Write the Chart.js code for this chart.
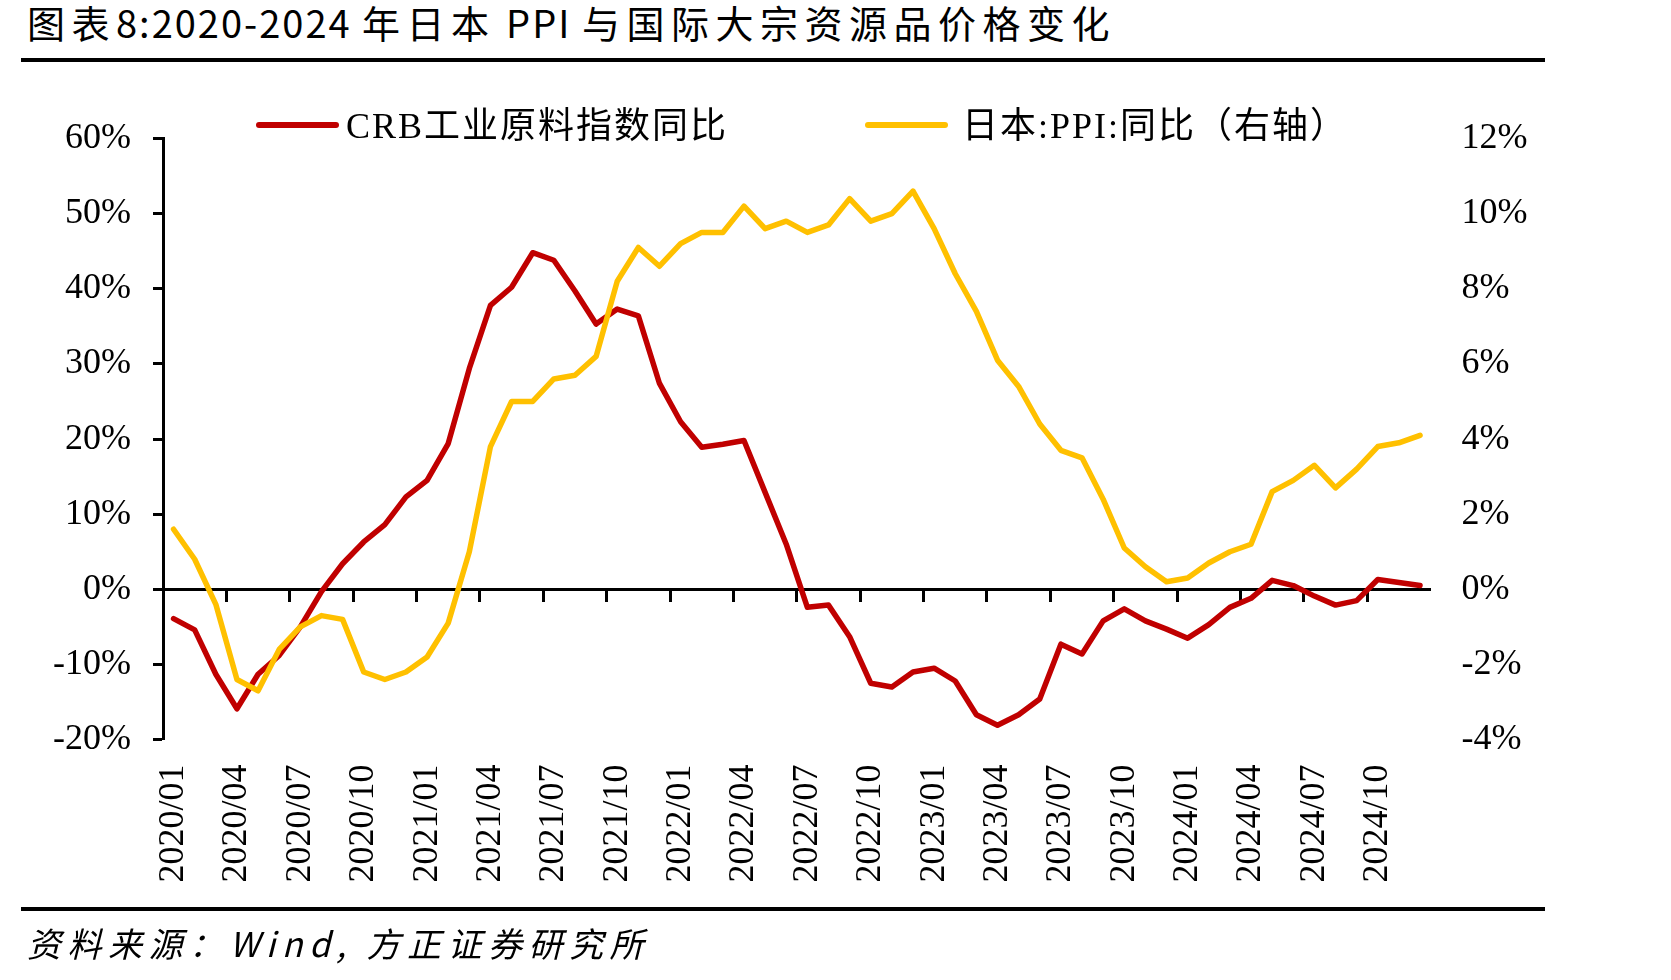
<!DOCTYPE html>
<html lang="zh-CN">

<head>
    <meta charset="UTF-8">
    <title>图表8</title>
    <script src="https://cdn.jsdelivr.net/npm/chart.js@4.4.1/dist/chart.umd.min.js"></script>
    <style>
        body { margin: 0; background: #fff; overflow: hidden; }
        #page { position: relative; width: 1671px; height: 980px; }
        #myChart { position: absolute; left: 0; top: 0; }
        .rule { position: absolute; left: 21px; width: 1524px; height: 4px; background: #000; }
        #title {
            position: absolute; left: 27px; top: 0px; white-space: nowrap;
            font: 38px "Noto Sans CJK SC"; line-height: 44px; letter-spacing: 6.5px; color: #000;
        }
        #title .lat { letter-spacing: 2px; }
        #source {
            position: absolute; left: 27px; top: 921px; white-space: nowrap;
            font: italic 34px "Noto Sans CJK SC"; line-height: 44px; letter-spacing: 6.5px; color: #000;
        }
        .legend-item { position: absolute; top: 104px; height: 42px; white-space: nowrap; }
        .legend-item .swatch {
            position: absolute; left: 0; top: 18px; width: 83px; height: 6px; border-radius: 3px;
        }
        .legend-item .text {
            position: absolute; top: -8px; line-height: 42px;
            font: 36px "Liberation Serif", "Noto Sans CJK SC", serif; letter-spacing: 2px; color: #000;
        }
    </style>
</head>

<body>
    <div id="page">
        <div id="title">图表<span class="lat">8:2020-2024 </span>年日本<span class="lat"> PPI </span>与国际大宗资源品价格变化</div>
        <div class="rule" style="top: 58px"></div>
        <canvas id="myChart" width="1671" height="980"></canvas>
        <div id="legend"></div>
        <div class="rule" style="top: 907px"></div>
        <div id="source">资料来源：Wind, 方正证券研究所</div>
    </div>

    <script>
        // monthly, 2020/01 - 2024/12
        var months = [
            '2020/01', '2020/02', '2020/03', '2020/04', '2020/05', '2020/06', '2020/07', '2020/08', '2020/09', '2020/10', '2020/11', '2020/12',
            '2021/01', '2021/02', '2021/03', '2021/04', '2021/05', '2021/06', '2021/07', '2021/08', '2021/09', '2021/10', '2021/11', '2021/12',
            '2022/01', '2022/02', '2022/03', '2022/04', '2022/05', '2022/06', '2022/07', '2022/08', '2022/09', '2022/10', '2022/11', '2022/12',
            '2023/01', '2023/02', '2023/03', '2023/04', '2023/05', '2023/06', '2023/07', '2023/08', '2023/09', '2023/10', '2023/11', '2023/12',
            '2024/01', '2024/02', '2024/03', '2024/04', '2024/05', '2024/06', '2024/07', '2024/08', '2024/09', '2024/10', '2024/11', '2024/12'
        ];

        // CRB工业原料指数同比 (%), left axis
        var crbYoy = [
            -3.9, -5.4, -11.3, -15.9, -11.3, -8.8, -5.0, -0.3, 3.4, 6.3, 8.6, 12.3,
            14.5, 19.4, 29.4, 37.8, 40.2, 44.8, 43.8, 39.7, 35.3, 37.3, 36.4, 27.4,
            22.3, 18.9, 19.3, 19.8, 12.9, 6.0, -2.4, -2.1, -6.3, -12.5, -13.0, -11.0,
            -10.5, -12.2, -16.7, -18.1, -16.7, -14.6, -7.3, -8.6, -4.2, -2.6, -4.2, -5.3,
            -6.5, -4.7, -2.4, -1.2, 1.2, 0.5, -0.9, -2.1, -1.5, 1.3, 0.9, 0.5
        ];

        // 日本:PPI:同比 (%), right axis
        var japanPpi = [
            1.6, 0.8, -0.4, -2.4, -2.7, -1.6, -1.0, -0.7, -0.8, -2.2, -2.4, -2.2,
            -1.8, -0.9, 1.0, 3.8, 5.0, 5.0, 5.6, 5.7, 6.2, 8.2, 9.1, 8.6,
            9.2, 9.5, 9.5, 10.2, 9.6, 9.8, 9.5, 9.7, 10.4, 9.8, 10.0, 10.6,
            9.6, 8.4, 7.4, 6.1, 5.4, 4.4, 3.7, 3.5, 2.4, 1.1, 0.6, 0.2,
            0.3, 0.7, 1.0, 1.2, 2.6, 2.9, 3.3, 2.7, 3.2, 3.8, 3.9, 4.1
        ];

        var leftTicks = { min: -20, max: 60, step: 10 };
        var rightTicks = { min: -4, max: 12, step: 2 };

        var RED = '#C00000';
        var YELLOW = '#FFC000';
        var BLACK = '#000000';

        Chart.defaults.font.family = '"Liberation Serif", "Noto Sans CJK SC", serif';
        Chart.defaults.font.size = 36;
        Chart.defaults.color = BLACK;

        var pct = function (v) { return v + '%'; };

        var config = {
            type: 'line',
            data: {
                labels: months,
                datasets: [{
                    label: 'CRB工业原料指数同比',
                    data: crbYoy,
                    yAxisID: 'y',
                    borderColor: RED,
                    backgroundColor: RED,
                    order: 1
                }, {
                    label: '日本:PPI:同比（右轴）',
                    data: japanPpi,
                    yAxisID: 'y1',
                    borderColor: YELLOW,
                    backgroundColor: YELLOW,
                    order: 0
                }]
            },
            options: {
                responsive: false,
                animation: false,
                layout: { padding: { top: 138.5, left: 0, right: 0, bottom: 0 } },
                elements: {
                    line: { borderWidth: 5.5, tension: 0, borderJoinStyle: 'round', borderCapStyle: 'round' },
                    point: { radius: 0, hoverRadius: 0 }
                },
                plugins: {
                    legend: { display: false },
                    tooltip: { enabled: false }
                },
                scales: {
                    x: {
                        type: 'category',
                        position: 'bottom',
                        offset: true,
                        grid: { display: false, drawTicks: false },
                        border: { display: false },
                        ticks: {
                            autoSkip: false,
                            minRotation: 90,
                            maxRotation: 90,
                            padding: 25,
                            callback: function (v, i) { return i % 3 === 0 ? this.getLabelForValue(v) : ''; }
                        },
                        afterFit: function (scale) { scale.height = 240.4; }
                    },
                    // the zero line with its month ticks
                    x2: {
                        type: 'category',
                        position: { y: 0 },
                        offset: true,
                        grid: {
                            drawOnChartArea: false,
                            offset: true,
                            tickLength: 11,
                            tickWidth: 3,
                            tickColor: function (c) { return c.index % 3 === 0 ? BLACK : 'rgba(0,0,0,0)'; }
                        },
                        border: { color: BLACK, width: 3 },
                        ticks: { display: false, autoSkip: false }
                    },
                    y: {
                        position: 'left',
                        min: leftTicks.min,
                        max: leftTicks.max,
                        grid: { drawOnChartArea: false, tickLength: 10, tickWidth: 3, tickColor: BLACK },
                        border: { color: BLACK, width: 3 },
                        ticks: { stepSize: leftTicks.step, padding: 22, callback: pct },
                        afterFit: function (scale) { scale.width = 163; }
                    },
                    y1: {
                        position: 'right',
                        min: rightTicks.min,
                        max: rightTicks.max,
                        grid: { display: false, drawTicks: false },
                        border: { display: false },
                        ticks: { stepSize: rightTicks.step, padding: 31, callback: pct },
                        afterFit: function (scale) { scale.width = 240.4; }
                    }
                }
            }
        };

        var ctx = document.getElementById('myChart').getContext('2d');
        var chart = new Chart(ctx, config);

        // html legend, same look as the excel one
        var legendLefts = [256, 865];
        var textGaps = [90, 97];
        var legend = document.getElementById('legend');
        chart.data.datasets.forEach(function (ds, i) {
            var item = document.createElement('div');
            item.className = 'legend-item';
            item.style.left = legendLefts[i] + 'px';
            item.innerHTML = '<span class="swatch" style="background:' + ds.borderColor + '"></span>' +
                '<span class="text" style="left:' + textGaps[i] + 'px">' + ds.label + '</span>';
            legend.appendChild(item);
        });
    </script>
</body>

</html>
